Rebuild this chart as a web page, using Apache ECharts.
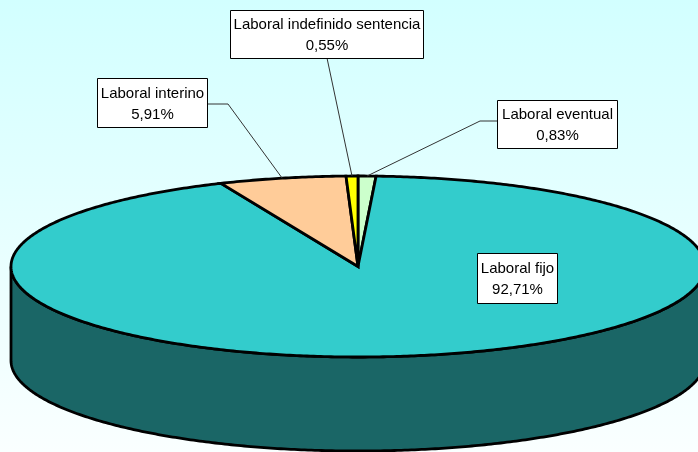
<!DOCTYPE html>
<html>
<head>
<meta charset="utf-8">
<script src="https://cdn.jsdelivr.net/npm/echarts@6/dist/echarts.min.js"></script>
<style>
  html, body { margin: 0; padding: 0; }
  #chart { width: 698px; height: 452px; }
</style>
</head>
<body>
<div id="chart"></div>
<script>
// slices, clockwise from 12 o'clock
const categories = ['Laboral eventual', 'Laboral fijo', 'Laboral interino', 'Laboral indefinido sentencia'];
const values = [0.83, 92.71, 5.91, 0.55];

const colors = ['#CCFFCC', '#33CCCC', '#FFCC99', '#FFFF00'];

// pie geometry (px)
const cx = 358, cy = 266.5, rx = 347, ry = 90.5, depth = 94;

// label boxes + leader line points (box side first is the elbow)
const labelBoxes = [
  { x: 497, y: 100, w: 120, h: 48, line: [[480, 121], [497, 121]] },
  { x: 477, y: 253, w: 80, h: 50, line: null },
  { x: 97, y: 78, w: 110, h: 49, line: [[228, 104], [207, 104]] },
  { x: 230, y: 10, w: 193, h: 48, line: [[327, 58]] }
];

const total = values.reduce((a, b) => a + b, 0);

function pt(t, dy) {
  return [cx + rx * Math.sin(t), cy - ry * Math.cos(t) + (dy || 0)];
}

function arc(a, b, dy) {
  let pts = [];
  let n = Math.max(2, Math.ceil((b - a) / 0.01));
  for (let i = 0; i <= n; i++) {
    pts.push(pt(a + (b - a) * i / n, dy));
  }
  return pts;
}

function fmt(v) {
  return v.toFixed(2).replace('.', ',') + '%';
}

// darker shade for the side wall
function shade(c, k) {
  let rgb = echarts.color.parse(c);
  return 'rgb(' + Math.round(rgb[0] * k) + ',' + Math.round(rgb[1] * k) + ',' + Math.round(rgb[2] * k) + ')';
}

function renderItem(params, api) {
  let idx = params.dataIndex;
  let before = 0;
  for (let i = 0; i < idx; i++) before += values[i];
  let a0 = before / total * Math.PI * 2;
  let a1 = (before + api.value(0)) / total * Math.PI * 2;
  let children = [];
  let color = colors[idx];

  // side wall, only the front half is visible
  let s = Math.max(a0, Math.PI / 2), e = Math.min(a1, Math.PI * 1.5);
  if (e > s) {
    let side = arc(s, e, 0).concat(arc(s, e, depth).reverse());
    children.push({
      type: 'polygon',
      z2: 1,
      shape: { points: side },
      style: { fill: shade(color, 0.5), stroke: '#000', lineWidth: 2.8 }
    });
  }

  // top face
  children.push({
    type: 'polygon',
    z2: 2,
    shape: { points: [[cx, cy]].concat(arc(a0, a1, 0)) },
    style: { fill: color, stroke: '#000', lineWidth: 2.8, lineJoin: 'miter' }
  });

  // label
  let box = labelBoxes[idx];
  if (box.line) {
    let mid = pt((a0 + a1) / 2, 0);
    children.push({
      type: 'polyline',
      z2: 3,
      shape: { points: [mid].concat(box.line) },
      style: { stroke: '#333', lineWidth: 1, fill: null }
    });
  }
  children.push({
    type: 'rect',
    z2: 4,
    shape: { x: box.x + 0.5, y: box.y + 0.5, width: box.w, height: box.h },
    style: { fill: '#fff', stroke: '#000', lineWidth: 1 }
  });
  children.push({
    type: 'text',
    z2: 5,
    style: {
      x: box.x + box.w / 2 + 0.5,
      y: box.y + box.h / 2 + 1.5,
      text: categories[idx] + '\n' + fmt(api.value(0)),
      fill: '#000',
      font: '15px "Liberation Sans", Arial, sans-serif',
      lineHeight: 21,
      align: 'center',
      verticalAlign: 'middle'
    }
  });

  return { type: 'group', children: children };
}

let myChart = echarts.init(document.getElementById('chart'));
let option = {
  animation: false,
  backgroundColor: {
    type: 'linear', x: 0, y: 0, x2: 0, y2: 1,
    colorStops: [
      { offset: 0, color: '#D2FFFF' },
      { offset: 1, color: '#FAFFFF' }
    ]
  },
  series: [{
    type: 'custom',
    coordinateSystem: 'none',
    renderItem: renderItem,
    data: values.map((v, i) => ({ name: categories[i], value: v }))
  }]
};
myChart.setOption(option);
</script>
</body>
</html>
